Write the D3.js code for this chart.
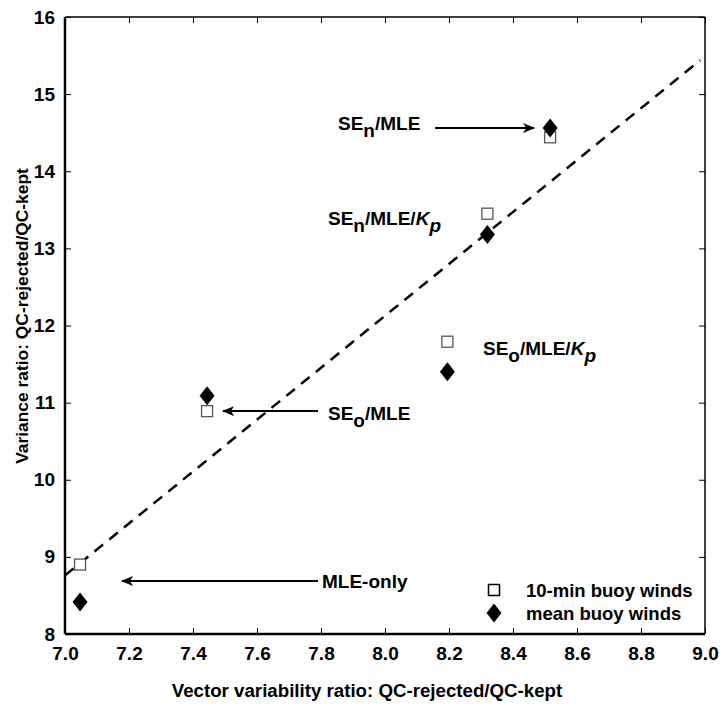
<!DOCTYPE html>
<html>
<head>
<meta charset="utf-8">
<script src="https://cdn.jsdelivr.net/npm/d3@7"></script>
<style>
  body { margin: 0; background: #fff; }
  text { font-family: "Liberation Sans", Arial, sans-serif; font-weight: bold; }
</style>
</head>
<body>
<div id="chart"></div>
<script>
// x = vector variability ratio, y = variance ratio
const methods = ["MLE-only", "SEo/MLE", "SEo/MLE/Kp", "SEn/MLE/Kp", "SEn/MLE"]
const vectorRatio = [7.047, 7.444, 8.195, 8.32, 8.516]
const varTenMin = [8.9, 10.89, 11.79, 13.45, 14.44]
const varMean = [8.415, 11.09, 11.4, 13.18, 14.56]
const fitLine = [[7.0, 8.76], [8.985, 15.44]]
const xTicks = [7.0, 7.2, 7.4, 7.6, 7.8, 8.0, 8.2, 8.4, 8.6, 8.8, 9.0]
const yTicks = [8, 9, 10, 11, 12, 13, 14, 15, 16]

const W = 721, H = 707
const MARGIN = {TOP: 17, BOTTOM: 73, LEFT: 65, RIGHT: 16}
const WIDTH = W - MARGIN.LEFT - MARGIN.RIGHT
const HEIGHT = H - MARGIN.TOP - MARGIN.BOTTOM

const svg = d3.select("#chart").append("svg")
    .attr("width", W)
    .attr("height", H)

svg.append("defs").append("marker")
    .attr("id", "arrow")
    .attr("viewBox", "0 0 12 10")
    .attr("refX", 11).attr("refY", 5)
    .attr("markerWidth", 12).attr("markerHeight", 10)
    .attr("markerUnits", "userSpaceOnUse")
    .attr("orient", "auto")
  .append("path")
    .attr("d", "M0,0 L12,5 L0,10 L3,5 Z")
    .attr("fill", "#000")

const g = svg.append("g")
    .attr("transform", `translate(${MARGIN.LEFT}, ${MARGIN.TOP})`)

const x = d3.scaleLinear().domain([7, 9]).range([0, WIDTH])
const y = d3.scaleLinear().domain([8, 16]).range([HEIGHT, 0])

// axes, ticks point inward
const styleAxis = sel => {
    sel.select(".domain").remove()
    sel.selectAll(".tick line").attr("stroke", "#000").attr("stroke-width", 1)
    sel.selectAll(".tick text").attr("font-size", 19).attr("fill", "#000")
}

g.append("g")
    .attr("transform", `translate(0, ${HEIGHT})`)
    .call(d3.axisBottom(x).tickValues(xTicks).tickFormat(d3.format(".1f")).tickSizeInner(-6).tickPadding(13))
    .call(styleAxis)

g.append("g")
    .call(d3.axisTop(x).tickValues(xTicks).tickSizeInner(-6).tickFormat(""))
    .call(styleAxis)

g.append("g")
    .call(d3.axisLeft(y).tickValues(yTicks).tickSizeInner(-6).tickPadding(10))
    .call(styleAxis)

g.append("g")
    .attr("transform", `translate(${WIDTH}, 0)`)
    .call(d3.axisRight(y).tickValues(yTicks).tickSizeInner(-6).tickFormat(""))
    .call(styleAxis)

// frame
g.append("line").attr("x1", 0).attr("x2", 0).attr("y1", 0).attr("y2", HEIGHT)
    .attr("stroke", "#000").attr("stroke-width", 2.5)
g.append("line").attr("x1", 0).attr("x2", WIDTH).attr("y1", HEIGHT).attr("y2", HEIGHT)
    .attr("stroke", "#000").attr("stroke-width", 2.5)
g.append("line").attr("x1", 0).attr("x2", WIDTH).attr("y1", 0).attr("y2", 0)
    .attr("stroke", "#000").attr("stroke-width", 1.5)
g.append("line").attr("x1", WIDTH).attr("x2", WIDTH).attr("y1", 0).attr("y2", HEIGHT)
    .attr("stroke", "#000").attr("stroke-width", 1.5)

// dashed fit line
g.append("path")
    .datum(fitLine)
    .attr("d", d3.line().x(d => x(d[0])).y(d => y(d[1])))
    .attr("fill", "none")
    .attr("stroke", "#000")
    .attr("stroke-width", 2.5)
    .attr("stroke-dasharray", "11,8")

// points
const squares = methods.map((m, i) => ({x: vectorRatio[i], y: varTenMin[i]}))
const diamonds = methods.map((m, i) => ({x: vectorRatio[i], y: varMean[i]}))

g.selectAll("rect.sq")
    .data(squares)
    .enter().append("rect")
    .attr("class", "sq")
    .attr("x", d => x(d.x) - 5.5)
    .attr("y", d => y(d.y) - 5.5)
    .attr("width", 11).attr("height", 11)
    .attr("fill", "#fff")
    .attr("stroke", "#555")
    .attr("stroke-width", 1.3)

const diamondPath = "M0,-9.5 L7.5,0 L0,9.5 L-7.5,0 Z"
g.selectAll("path.dm")
    .data(diamonds)
    .enter().append("path")
    .attr("class", "dm")
    .attr("transform", d => `translate(${x(d.x)}, ${y(d.y)})`)
    .attr("d", diamondPath)
    .attr("fill", "#000")

// annotations (px in page coords, shifted into the plot group)
const labelText = (lx, ly, parts) => {
    const t = g.append("text").attr("x", lx - MARGIN.LEFT).attr("y", ly - MARGIN.TOP)
        .attr("font-size", 19).attr("fill", "#000")
    parts.forEach(p => {
        const s = t.append("tspan").text(p.t)
        if (p.sub) s.attr("baseline-shift", "-35%")
        if (p.it) s.attr("font-style", "italic")
    })
    return t
}
const arrow = (x1, y1, x2, y2) => g.append("line")
    .attr("x1", x1).attr("y1", y1).attr("x2", x2).attr("y2", y2)
    .attr("stroke", "#000").attr("stroke-width", 2)
    .attr("marker-end", "url(#arrow)")

// SEn/MLE
labelText(338, 130, [{t: "SE"}, {t: "n", sub: true}, {t: "/MLE"}])
arrow(435 - MARGIN.LEFT, y(varMean[4]), x(vectorRatio[4]) - 16, y(varMean[4]))
// SEn/MLE/Kp
labelText(328, 225, [{t: "SE"}, {t: "n", sub: true}, {t: "/MLE/"}, {t: "K", it: true}, {t: "p", sub: true, it: true}])
// SEo/MLE/Kp
labelText(483, 355, [{t: "SE"}, {t: "o", sub: true}, {t: "/MLE/"}, {t: "K", it: true}, {t: "p", sub: true, it: true}])
// SEo/MLE
labelText(328, 420, [{t: "SE"}, {t: "o", sub: true}, {t: "/MLE"}])
arrow(318 - MARGIN.LEFT, y(varTenMin[1]), x(vectorRatio[1]) + 16, y(varTenMin[1]))
// MLE-only
labelText(322, 588, [{t: "MLE-only"}])
arrow(318 - MARGIN.LEFT, 581 - MARGIN.TOP, 122 - MARGIN.LEFT, 581 - MARGIN.TOP)

// legend
const lg = g.append("g").attr("transform", `translate(${494 - MARGIN.LEFT}, ${590 - MARGIN.TOP})`)
lg.append("rect").attr("x", -5.5).attr("y", -5.5).attr("width", 11).attr("height", 11)
    .attr("fill", "#fff").attr("stroke", "#000").attr("stroke-width", 1.5)
lg.append("text").attr("x", 32).attr("y", 7).attr("font-size", 18.5).text("10-min buoy winds")
lg.append("path").attr("transform", "translate(0, 23)").attr("d", diamondPath).attr("fill", "#000")
lg.append("text").attr("x", 32).attr("y", 30).attr("font-size", 18.5).text("mean buoy winds")

// axis titles
svg.append("text")
    .attr("x", 367)
    .attr("y", 697)
    .attr("text-anchor", "middle")
    .attr("font-size", 18.7)
    .text("Vector variability ratio: QC-rejected/QC-kept")

svg.append("text")
    .attr("transform", `translate(28, 316) rotate(-90)`)
    .attr("text-anchor", "middle")
    .attr("font-size", 17.4)
    .text("Variance ratio: QC-rejected/QC-kept")
</script>
</body>
</html>
